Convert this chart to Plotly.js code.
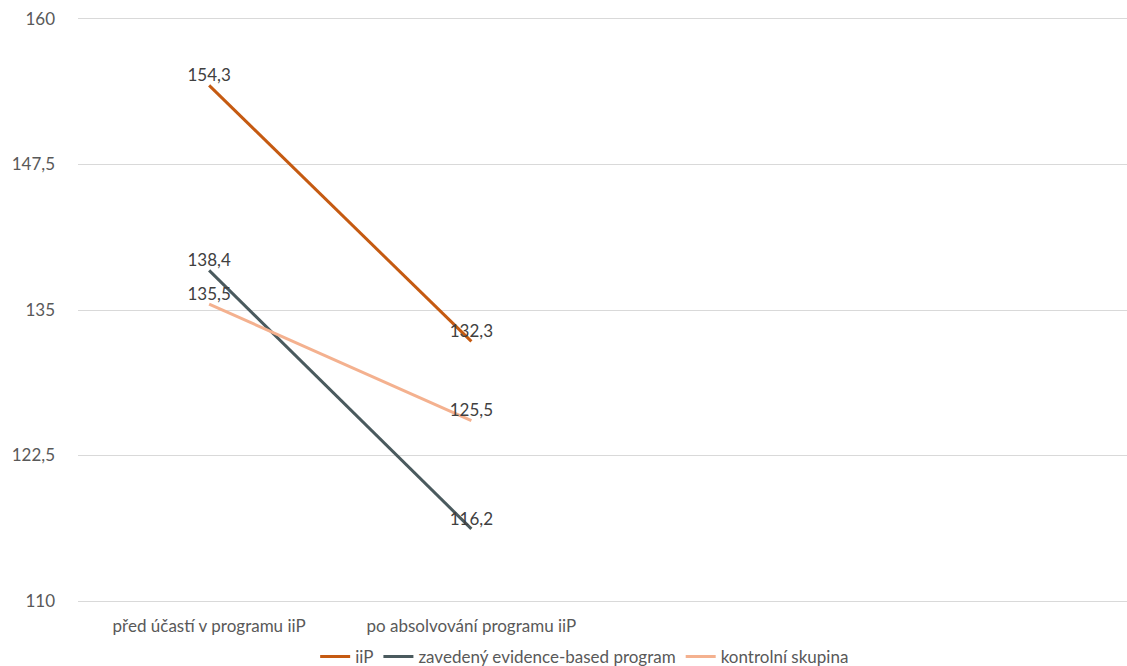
<!DOCTYPE html>
<html>
<head>
<meta charset="utf-8">
<script src="https://cdn.plot.ly/plotly-3.0.1.min.js"></script>
<style>html,body{margin:0;padding:0;background:#fff;}#chart{width:1127px;height:666px;}</style>
</head>
<body>
<div id="chart"></div>
<script>
const categories = ["před účastí v programu iiP", "po absolvování programu iiP"];
const seriesNames = ["iiP", "zavedený evidence-based program", "kontrolní skupina"];
const iiP = [154.3, 132.3];
const evidenceBased = [138.4, 116.2];
const kontrolni = [135.5, 125.5];
const yTicks = [110, 122.5, 135, 147.5, 160];

const colors = ["#C55A11", "#4A5A5E", "#F4B18F"];
const seriesData = [iiP, evidenceBased, kontrolni];
const FONT = "Lato, 'Open Sans', sans-serif";

const traces = seriesData.map((vals, i) => ({
  type: "scatter",
  mode: "lines+text",
  x: categories,
  y: vals,
  name: seriesNames[i],
  text: vals.map(v => v.toFixed(1).replace(".", ",")),
  textposition: "top center",
  textfont: {family: FONT, size: 17, color: "#404040"},
  line: {color: colors[i], width: 3},
  cliponaxis: false,
  hoverinfo: "skip"
}));

const layout = {
  width: 1127,
  height: 666,
  margin: {l: 78, r: 0, t: 19, b: 65, autoexpand: false},
  paper_bgcolor: "#ffffff",
  plot_bgcolor: "#ffffff",
  separators: ", ",
  font: {family: FONT, size: 17, color: "#595959"},
  showlegend: true,
  legend: {
    orientation: "h",
    x: 0.483, xanchor: "center",
    y: -0.096, yanchor: "middle",
    font: {family: FONT, size: 17, color: "#595959"},
    traceorder: "normal",
    bgcolor: "rgba(0,0,0,0)"
  },
  xaxis: {
    type: "category",
    range: [-0.5, 3.5],
    showgrid: false,
    zeroline: false,
    showline: true,
    mirror: true,
    linecolor: "#D9D9D9",
    linewidth: 1,
    ticks: "",
    ticklabelstandoff: 10,
    tickfont: {family: FONT, size: 17, color: "#595959"}
  },
  yaxis: {
    range: [110, 160],
    tickvals: yTicks,
    showgrid: true,
    gridcolor: "#D9D9D9",
    gridwidth: 1,
    zeroline: false,
    showline: false,
    ticks: "",
    ticklabelstandoff: 22,
    tickfont: {family: FONT, size: 17, color: "#595959"}
  }
};

Plotly.newPlot("chart", traces, layout, {displayModeBar: false, staticPlot: true});
</script>
</body>
</html>
